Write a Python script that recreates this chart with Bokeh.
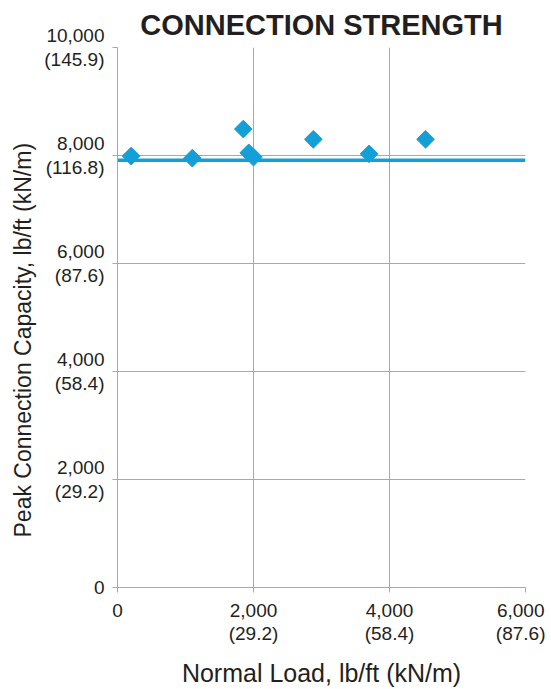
import math
from bokeh.plotting import figure
from bokeh.models import Range1d, FixedTicker, Title
from bokeh.embed import file_html
from bokeh.resources import INLINE

# Data
normal_load = [200, 1100, 1850, 1930, 2000, 2880, 3700, 4530]
peak_capacity = [7990, 7950, 8490, 8050, 7970, 8300, 8030, 8300]
mean_line_x = [-100, 6000]
mean_line_y = [7910, 7910]

x_ticks = [0, 2000, 4000, 6000]
x_tick_labels = ["0", "2,000\n(29.2)", "4,000\n(58.4)", "6,000\n(87.6)"]
y_ticks = [0, 2000, 4000, 6000, 8000, 10000]
y_tick_labels = ["0", "2,000\n(29.2)", "4,000\n(58.4)", "6,000\n(87.6)", "8,000\n(116.8)", "10,000\n(145.9)"]

FONT = "Liberation Sans"
TEXT = "#231f20"
GRID = "#a8a8a8"
BLUE = "#139fd8"

W, H = 545, 689
p = figure(width=W, height=H, output_backend="svg", toolbar_location=None,
           x_range=Range1d(0, 6000), y_range=Range1d(0, 10000),
           min_border_left=117, min_border_right=W - 525, min_border_top=47,
           min_border_bottom=H - 590,
           title="CONNECTION STRENGTH")
p.outline_line_color = None
p.background_fill_color = "white"

p.title.text_font = FONT
p.title.text_font_size = "29px"
p.title.text_font_style = "bold"
p.title.text_color = TEXT
p.title.align = "center"
p.title.standoff = 13

for ax in (p.xaxis[0], p.yaxis[0]):
    ax.axis_line_color = GRID
    ax.major_tick_line_color = GRID
    ax.major_tick_out = 5
    ax.major_tick_in = 0
    ax.minor_tick_line_color = None
    ax.major_label_text_font = FONT
    ax.major_label_text_font_size = "19px"
    ax.major_label_text_line_height = 1.11
    ax.major_label_text_color = TEXT
    ax.axis_label_text_font = FONT
    ax.axis_label_text_font_style = "normal"
    ax.axis_label_text_color = TEXT

p.xaxis.axis_label_text_font_size = "25px"

p.xaxis.ticker = FixedTicker(ticks=x_ticks)
p.xaxis.major_label_overrides = {t: l for t, l in zip(x_ticks, x_tick_labels)}
p.yaxis.ticker = FixedTicker(ticks=y_ticks)
p.yaxis.major_label_overrides = {t: l for t, l in zip(y_ticks, y_tick_labels)}
p.xaxis.axis_label = "Normal Load, lb/ft (kN/m)"
p.xaxis.axis_label_standoff = 12
p.xaxis.major_label_standoff = 7
p.yaxis.major_label_standoff = 8

ylab = Title(text="Peak Connection Capacity, lb/ft (kN/m)", align="left", offset=50,
             text_font=FONT, text_font_size="23px", text_font_style="normal",
             text_color=TEXT, standoff=11)
p.add_layout(ylab, "left")

p.xgrid.grid_line_color = GRID
p.ygrid.grid_line_color = GRID
p.xgrid.grid_line_width = 1
p.ygrid.grid_line_width = 1

p.line(mean_line_x, mean_line_y, line_color=BLUE, line_width=3.5)
p.scatter(normal_load, peak_capacity, marker="square", angle=math.pi / 4, size=12.5,
          fill_color=BLUE, line_color=BLUE)

open("out.html", "w").write(file_html(p, INLINE))
